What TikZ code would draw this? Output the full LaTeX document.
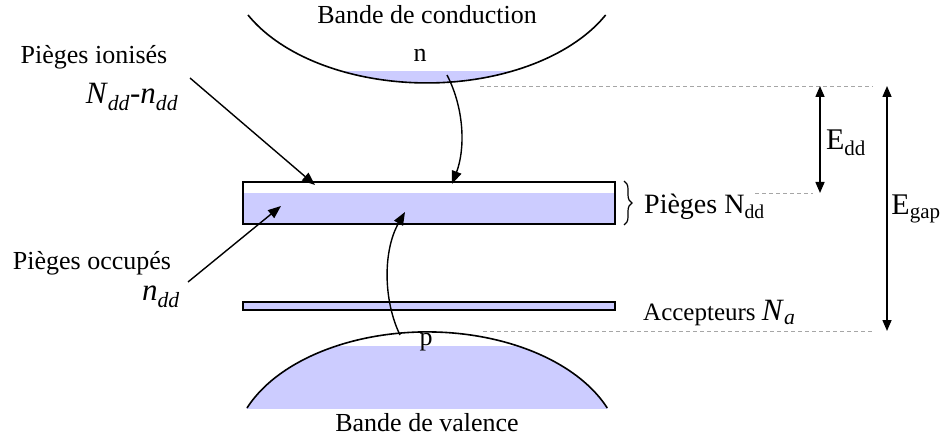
\documentclass[tikz,border=0pt]{standalone}
\usepackage{fontspec}
\setmainfont{Liberation Serif}
\usetikzlibrary{positioning,arrows.meta,decorations.pathreplacing}
\newcommand{\lo}[1]{\textsubscript{#1}}

\begin{document}
\begin{tikzpicture}[
    x=1pt, y=-1pt,
    lbl/.style={font=\fontsize{26}{30}\selectfont, inner sep=0pt},
    big/.style={font=\fontsize{30}{34}\selectfont, inner sep=0pt},
    band/.style={line width=1.6pt},
    level/.style={rectangle, draw, line width=1.4pt, minimum width=372pt, inner sep=0pt},
    guide/.style={gray!70, dash pattern=on 4pt off 3pt, line width=0.8pt},
    gap/.style={{Triangle[length=11pt,width=9pt]}-{Triangle[length=11pt,width=9pt]}, line width=1.5pt},
    hop/.style={-{Triangle[length=13pt,width=10pt]}, line width=1.4pt}
]
\useasboundingbox (0,0) rectangle (944,438);

% bandes
\begin{scope}
  \clip (0,72) rectangle (944,100);
  \fill[blue!20] (427,-40) ellipse[x radius=200, y radius=123];
\end{scope}
\draw[band] (248,15) arc[start angle=153.4, end angle=26.6, x radius=200, y radius=123];
\begin{scope}
  \clip (0,346) rectangle (944,408);
  \fill[blue!20] (427,453) ellipse[x radius=194, y radius=121];
\end{scope}
\draw[band] (247,408) arc[start angle=201.8, end angle=338.2, x radius=194, y radius=121];

\node[lbl] (cb) at (427,15) {Bande de conduction};
\node[lbl] (n) at (420,55) {n};
\node[lbl] (p) at (426,342) {p};
\node[lbl] (vb) at (427,423) {Bande de valence};

% niveaux
\node[level, minimum height=42pt, path picture={
    \fill[blue!20] (path picture bounding box.south west)
      rectangle ([yshift=-11pt]path picture bounding box.north east);}]
  (traps) at (429,203) {};
\node[level, minimum height=8pt, fill=blue!20] (acc) at (429,306) {};

\draw[decorate, decoration={brace, amplitude=8pt}, line width=1.2pt]
  (624,181) -- (624,225);
\node[lbl, anchor=west, font=\fontsize{28}{32}\selectfont] (trapl) at (644,207) {Pièges N\lo{dd}};
\node[lbl, anchor=west, font=\fontsize{25}{29}\selectfont] (accl) at (643,313)
  {Accepteurs {\fontsize{31}{34}\selectfont\textit{N}\lo{\textit{a}}}};

% transitions
\coordinate (nA) at (447,75);
\coordinate (nB) at (452,184);
\coordinate (pA) at (400,335);
\coordinate (pB) at (405,212);
\draw[hop] (nA) .. controls (465,110) and (465,150) .. (nB);
\draw[hop] (pA) .. controls (383,300) and (383,250) .. (pB);

% etiquettes a gauche
\node[lbl] (ion) at (94,57) {Pièges ionisés};
\node[big, font=\fontsize{31}{34}\selectfont] (ionN) at (132,97) {\textit{N}\lo{\textit{dd}}-\textit{n}\lo{\textit{dd}}};
\node[lbl] (occ) at (92,263) {Pièges occupés};
\node[big, font=\fontsize{31}{34}\selectfont] (occN) at (161,297) {\textit{n}\lo{\textit{dd}}};
\coordinate (ionA) at (190,78);
\coordinate (ionB) at (315,185);
\coordinate (occA) at (188,282);
\coordinate (occB) at (281,206);
\draw[hop] (ionA) -- (ionB);
\draw[hop] (occA) -- (occB);

% energies
\coordinate (ctop) at (873,86);
\coordinate (ddlev) at (813,193);
\coordinate (vtop) at (873,331);
\draw[guide] (480,86) -- (ctop);
\draw[guide] (755,193) -- (ddlev);
\draw[guide] (483,331) -- (vtop);
\coordinate (eddA) at (820,86);
\coordinate (eddB) at (820,193);
\coordinate (egA) at (887,86);
\coordinate (egB) at (887,331);
\draw[gap] (eddA) -- (eddB);
\draw[gap] (egA) -- (egB);
\node[big] (edd) at (846,143) {E\lo{dd}};
\node[big] (egap) at (916,209) {E\lo{gap}};

\end{tikzpicture}
\end{document}
